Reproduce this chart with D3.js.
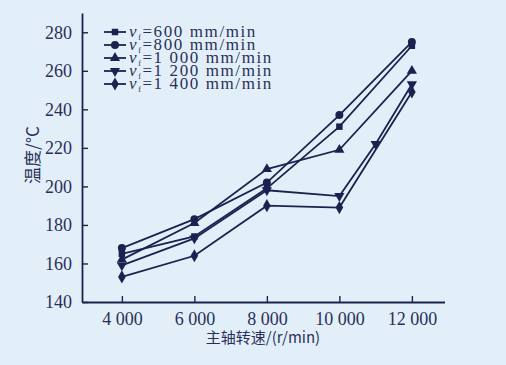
<!DOCTYPE html>
<html><head><meta charset="utf-8">
<script src="https://cdn.jsdelivr.net/npm/d3@7"></script>
<style>
html,body{margin:0;padding:0;background:#e3eff8;}
svg{display:block;}
</style></head>
<body>
<svg id="chart" width="506" height="365"></svg>
<script>
const speeds = [4000, 6000, 8000, 10000, 12000];
const feedLabels = ["600", "800", "1 000", "1 200", "1 400"];
const s600  = [165, 174, 199, 231, 273];
const s800  = [168, 183, 202, 237, 275];
const s1000 = [162, 181, 209, 219, 260];
const s1200x = [4000, 6000, 8000, 10000, 11000, 12000];
const s1200 = [159, 173, 198, 195, 222, 253];
const s1400 = [153, 164, 190, 189, 249];
const yTicks = [140, 160, 180, 200, 220, 240, 260, 280];
const xTickLabels = ["4 000", "6 000", "8 000", "10 000", "12 000"];

const series = [
  {name: feedLabels[0], xs: speeds, ys: s600, sym: d3.symbolSquare, size: 42, rot: 0},
  {name: feedLabels[1], xs: speeds, ys: s800, sym: d3.symbolCircle, size: 50, rot: 0},
  {name: feedLabels[2], xs: speeds, ys: s1000, sym: d3.symbolTriangle, size: 45, rot: 0},
  {name: feedLabels[3], xs: s1200x, ys: s1200, sym: d3.symbolTriangle, size: 45, rot: 180},
  {name: feedLabels[4], xs: speeds, ys: s1400, sym: d3.symbolDiamond, size: 50, rot: 0}
];

const SERIF = "'Liberation Serif', 'DejaVu Serif', 'Times New Roman', serif";
const CJK = "'Noto Sans CJK SC', sans-serif";
const color = "#1c2250";
const txtColor = "#2a2f5a";
const svg = d3.select("#chart");
const x = d3.scaleLinear().domain([2900, 12900]).range([82, 444.5]);
const y = d3.scaleLinear().domain([140, 290]).range([302, 13]);

// axes
const xAxis = d3.axisBottom(x).tickValues(speeds).tickSize(-6).tickSizeOuter(0)
  .tickFormat((d, i) => xTickLabels[i]);
const gx = svg.append("g").attr("transform", `translate(0,${y(140)})`).call(xAxis);
gx.select(".domain").attr("stroke", color).attr("stroke-width", 1.8);
gx.selectAll(".tick line").attr("stroke", color).attr("stroke-width", 1.4);
gx.selectAll(".tick text").attr("y", 10).attr("dy", "0.71em")
  .style("font-family", SERIF).style("font-size", "18px").style("fill", txtColor);

const yAxis = d3.axisLeft(y).tickValues(yTicks).tickSize(-6).tickSizeOuter(0).tickPadding(10);
const gy = svg.append("g").attr("transform", `translate(${x(2900)},0)`).call(yAxis);
gy.select(".domain").attr("stroke", color).attr("stroke-width", 1.8);
gy.selectAll(".tick line").attr("stroke", color).attr("stroke-width", 1.4);
gy.selectAll(".tick text").style("font-family", SERIF).style("font-size", "18px").style("fill", txtColor);

// lines
const line = d3.line();
series.forEach(s => {
  const pts = s.xs.map((v, i) => [x(v), y(s.ys[i])]);
  svg.append("path").attr("d", line(pts)).attr("fill", "none")
    .attr("stroke", color).attr("stroke-width", 1.8);
  svg.selectAll(null).data(pts).enter().append("path")
    .attr("d", d3.symbol().type(s.sym).size(s.size))
    .attr("transform", d => `translate(${d[0]},${d[1]}) rotate(${s.rot})`)
    .attr("fill", color);
});

// legend
const lg = svg.append("g");
series.forEach((s, i) => {
  const yy = 32 + i * 13;
  lg.append("line").attr("x1", 104).attr("x2", 126).attr("y1", yy).attr("y2", yy)
    .attr("stroke", color).attr("stroke-width", 1.8);
  lg.append("path").attr("d", d3.symbol().type(s.sym).size(s.size))
    .attr("transform", `translate(115,${yy}) rotate(${s.rot})`).attr("fill", color);
  const t = lg.append("text").attr("x", 129).attr("y", yy + 5)
    .style("font-family", SERIF).style("font-size", "17px").style("fill", txtColor)
    .style("letter-spacing", "1.6px");
  t.append("tspan").text("v").style("font-style", "italic");
  t.append("tspan").text("f").style("font-size", "8px").attr("dy", 3);
  t.append("tspan").text("=" + s.name + " mm/min").attr("dy", -3);
});

// axis titles
svg.append("text")
  .attr("transform", `translate(33,155) rotate(-90)`)
  .attr("text-anchor", "middle").attr("dy", "0.35em")
  .style("font-family", CJK).style("font-size", "17px").style("fill", txtColor).text("温度/°C");
svg.append("text")
  .attr("x", 263).attr("y", 343).attr("text-anchor", "middle")
  .style("font-family", CJK).style("font-size", "15px").style("fill", txtColor).text("主轴转速/(r/min)");
</script>
</body></html>
